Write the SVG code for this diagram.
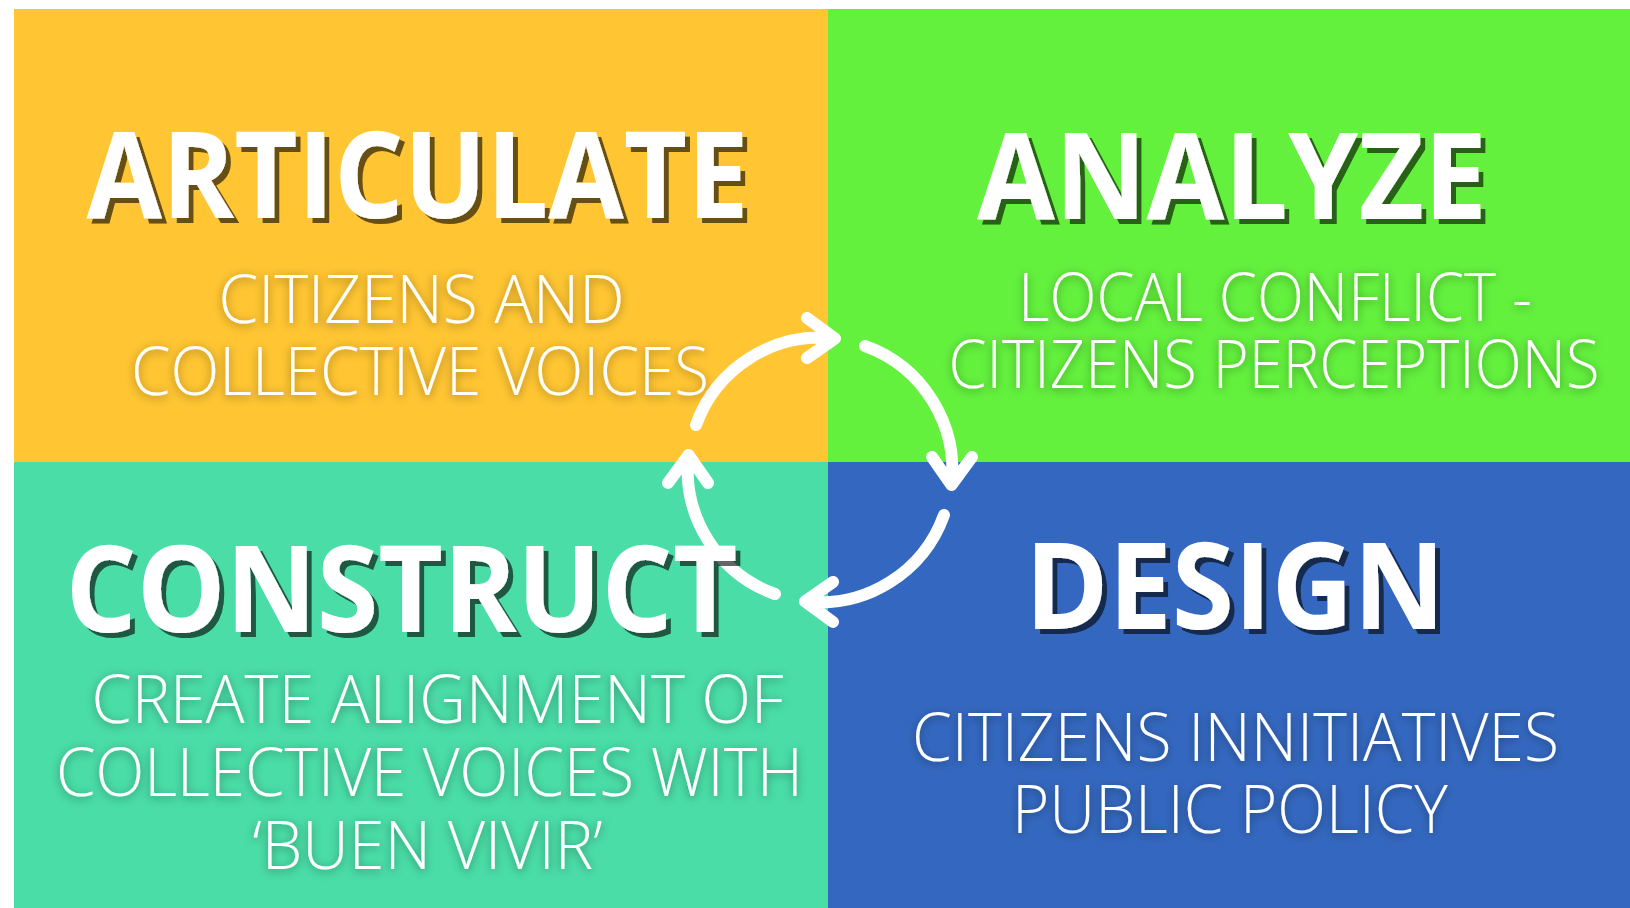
<svg xmlns="http://www.w3.org/2000/svg" width="1630" height="908" viewBox="0 0 1630 908">
<defs>
<filter id="hard" x="-5%" y="-10%" width="115%" height="130%">
<feDropShadow dx="5" dy="5" stdDeviation="0" flood-color="#000" flood-opacity="0.6"/>
</filter>
<filter id="glow" x="-10%" y="-30%" width="120%" height="160%">
<feDropShadow dx="0" dy="2" stdDeviation="5" flood-color="#000" flood-opacity="0.4"/>
</filter>
<style>
.title{font-family:"Open Sans","Liberation Sans",sans-serif;font-weight:700;font-size:120px;fill:#fff;text-anchor:middle;filter:url(#hard)}
.sub{font-family:"Open Sans","Liberation Sans",sans-serif;font-weight:300;font-size:66px;fill:#fff;text-anchor:middle;filter:url(#glow)}
.arrow{fill:none;stroke:#fff;stroke-width:12;stroke-linecap:round;stroke-linejoin:round}
</style>
</defs>
<rect width="1630" height="908" fill="#fff"/>
<g id="articulate">
<rect x="14" y="9" width="814" height="453" fill="#FFC532"/>
</g>
<g id="analyze">
<rect x="828" y="9" width="802" height="453" fill="#63F13D"/>
</g>
<g id="construct">
<rect x="14" y="462" width="814" height="446" fill="#4ADDA7"/>
</g>
<g id="design">
<rect x="828" y="462" width="802" height="446" fill="#3468C0"/>
</g>
<g id="connectors">
<path class="arrow" d="M696 425 A132 132 0 0 1 835 338.5 M807 318 L835 338.5 L807 358"/>
<path class="arrow" d="M865 346 A132 132 0 0 1 951.5 485 M972 457 L951.5 485 L932 457"/>
<path class="arrow" d="M944 515 A132 132 0 0 1 805 601.5 M833 622 L805 601.5 L833 582"/>
<path class="arrow" d="M775 594 A132 132 0 0 1 688.5 455 M668 483 L688.5 455 L708 483"/>
</g>
<g id="articulate-text">
<text class="title" x="417.5" y="218" textLength="662" lengthAdjust="spacingAndGlyphs">ARTICULATE</text>
<text class="sub" x="421.5" y="323" textLength="406" lengthAdjust="spacingAndGlyphs">CITIZENS AND</text>
<text class="sub" x="420" y="395" textLength="578" lengthAdjust="spacingAndGlyphs">COLLECTIVE VOICES</text>
</g>
<g id="analyze-text">
<text class="title" x="1232" y="219" textLength="510" lengthAdjust="spacingAndGlyphs">ANALYZE</text>
<text class="sub" x="1275" y="321" textLength="514" lengthAdjust="spacingAndGlyphs">LOCAL CONFLICT -</text>
<text class="sub" x="1274" y="388" textLength="651" lengthAdjust="spacingAndGlyphs">CITIZENS PERCEPTIONS</text>
</g>
<g id="construct-text">
<text class="title" x="401.5" y="632" textLength="672" lengthAdjust="spacingAndGlyphs">CONSTRUCT</text>
<text class="sub" x="437.5" y="723" textLength="692" lengthAdjust="spacingAndGlyphs">CREATE ALIGNMENT OF</text>
<text class="sub" x="429.5" y="796" textLength="747" lengthAdjust="spacingAndGlyphs">COLLECTIVE VOICES WITH</text>
<text class="sub" x="427.5" y="869" textLength="350" lengthAdjust="spacingAndGlyphs">‘BUEN VIVIR’</text>
</g>
<g id="design-text">
<text class="title" x="1235" y="629" textLength="420" lengthAdjust="spacingAndGlyphs">DESIGN</text>
<text class="sub" x="1235.5" y="761" textLength="647" lengthAdjust="spacingAndGlyphs">CITIZENS INNITIATIVES</text>
<text class="sub" x="1230" y="833" textLength="436" lengthAdjust="spacingAndGlyphs">PUBLIC POLICY</text>
</g>
</svg>
